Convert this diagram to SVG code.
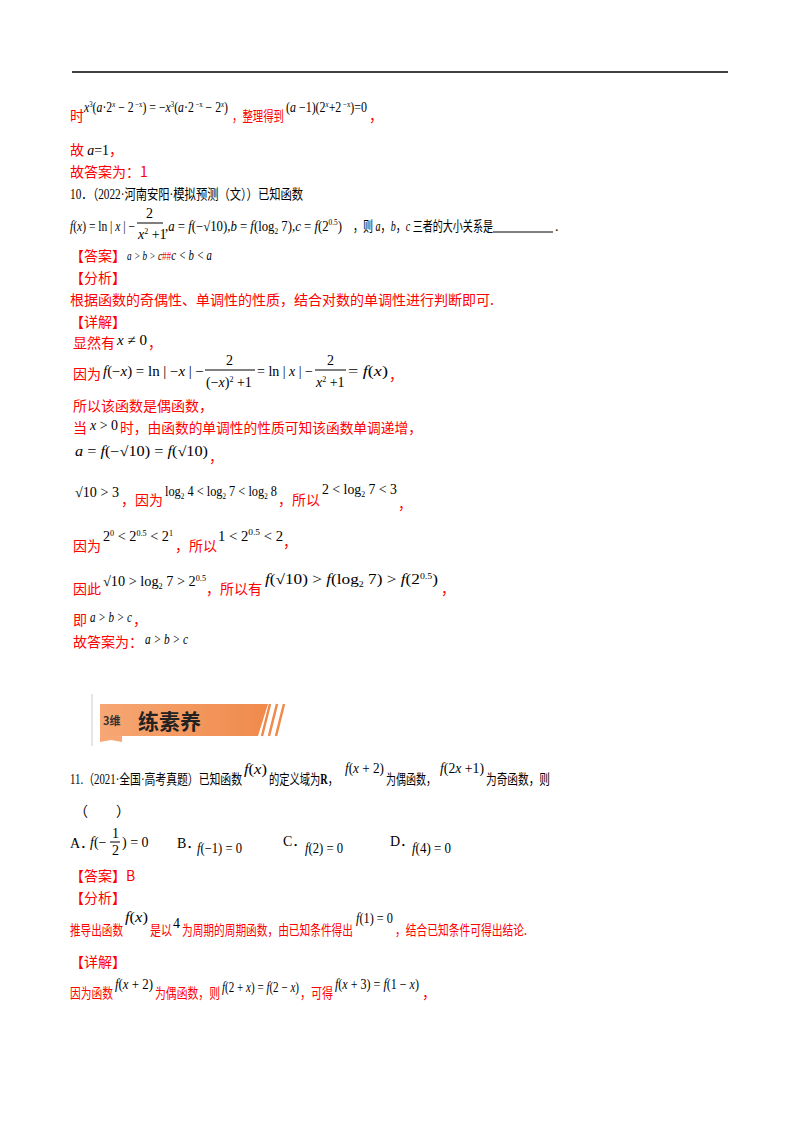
<svg xmlns="http://www.w3.org/2000/svg" width="800" height="1132" viewBox="0 0 800 1132">
<style>
.r{fill:#ff0000;font-family:"Noto Sans CJK SC",sans-serif;font-size:14px}
.k{fill:#000;font-family:"Liberation Serif","Noto Sans CJK SC",serif;font-size:14px}
.m{fill:#000;font-family:"Liberation Serif",serif;font-size:14px}
.i{font-style:italic}
.s{font-size:8px}
</style>
<rect width="800" height="1132" fill="#fff"/>
<line x1="72" y1="72" x2="728" y2="72" stroke="#000" stroke-width="1.5"/>
<text class="r" x="70" y="121">时</text>
<text class="m" x="84" y="112" textLength="144" lengthAdjust="spacingAndGlyphs"><tspan class="i">x</tspan><tspan class="s" dy="-5">3</tspan><tspan dy="5">(</tspan><tspan class="i">a</tspan>·2<tspan class="s i" dy="-5">x</tspan><tspan dy="5"> − 2</tspan><tspan class="s" dy="-5"> −x</tspan><tspan dy="5">) = −</tspan><tspan class="i">x</tspan><tspan class="s" dy="-5">3</tspan><tspan dy="5">(</tspan><tspan class="i">a</tspan>·2<tspan class="s" dy="-5"> −x</tspan><tspan dy="5"> − 2</tspan><tspan class="s i" dy="-5">x</tspan><tspan dy="5">)</tspan></text>
<text class="r" x="232" y="121" textLength="52" lengthAdjust="spacingAndGlyphs">，整理得到</text>
<text class="m" x="286" y="112" textLength="81" lengthAdjust="spacingAndGlyphs">(<tspan class="i">a</tspan> −1)(2<tspan class="s i" dy="-5">x</tspan><tspan dy="5">+2</tspan><tspan class="s" dy="-5"> −x</tspan><tspan dy="5">)=0</tspan></text>
<text class="r" x="369" y="121">，</text>
<text class="r" x="70" y="155">故 <tspan class="m i" fill="#000">a</tspan><tspan class="m" fill="#000">=1</tspan>，</text>
<text class="r" x="70" y="177">故答案为：1</text>
<text class="k" x="70" y="199" textLength="233" lengthAdjust="spacingAndGlyphs">10．（2022·河南安阳·模拟预测（文））已知函数</text>
<text class="m" x="70" y="231" textLength="65" lengthAdjust="spacingAndGlyphs"><tspan class="i">f</tspan>(<tspan class="i">x</tspan>) = ln | <tspan class="i">x</tspan> | −</text>
<text class="m" x="146" y="218">2</text>
<line x1="137" y1="223" x2="163" y2="223" stroke="#000"/>
<text class="m" x="138" y="239"><tspan class="i">x</tspan><tspan class="s" dy="-5">2</tspan><tspan dy="5"> +1</tspan></text>
<text class="m" x="165" y="231" textLength="177" lengthAdjust="spacingAndGlyphs">,<tspan class="i">a</tspan> = <tspan class="i">f</tspan>(−√10),<tspan class="i">b</tspan> = <tspan class="i">f</tspan>(log<tspan class="s" dy="3">2</tspan><tspan dy="-3"> 7),</tspan><tspan class="i">c</tspan> = <tspan class="i">f</tspan>(2<tspan class="s" dy="-6">0.5</tspan><tspan dy="6">)</tspan></text>
<text class="k" x="353" y="231" textLength="140" lengthAdjust="spacingAndGlyphs">，则 <tspan class="i">a</tspan>，<tspan class="i">b</tspan>，<tspan class="i">c</tspan> 三者的大小关系是</text>
<line x1="493" y1="232" x2="553" y2="232" stroke="#000"/>
<text class="k" x="555" y="231">.</text>
<text class="r" x="70" y="261">【答案】</text>
<text class="m" x="127" y="260" textLength="85" lengthAdjust="spacingAndGlyphs"><tspan class="i" font-size="12">a &gt; b &gt; c</tspan><tspan font-size="12" fill="#ff0000">##</tspan><tspan class="i">c &lt; b &lt; a</tspan></text>
<text class="r" x="70" y="283">【分析】</text>
<text class="r" x="70" y="305">根据函数的奇偶性、单调性的性质，结合对数的单调性进行判断即可.</text>
<text class="r" x="70" y="327">【详解】</text>
<text class="r" x="73" y="348">显然有</text>
<text class="m" x="117" y="345" textLength="30" lengthAdjust="spacingAndGlyphs"><tspan class="i">x</tspan> ≠ 0</text>
<text class="r" x="148" y="348">，</text>
<text class="r" x="73" y="379">因为</text>
<text class="m" x="103" y="376" textLength="101" lengthAdjust="spacingAndGlyphs"><tspan class="i">f</tspan>(−<tspan class="i">x</tspan>) = ln | −<tspan class="i">x</tspan> | −</text>
<text class="m" x="226" y="365">2</text>
<line x1="205" y1="370" x2="255" y2="370" stroke="#000"/>
<text class="m" x="206" y="387">(−<tspan class="i">x</tspan>)<tspan class="s" dy="-5">2</tspan><tspan dy="5"> +1</tspan></text>
<text class="m" x="257" y="376" textLength="56" lengthAdjust="spacingAndGlyphs">= ln | <tspan class="i">x</tspan> | −</text>
<text class="m" x="327" y="365">2</text>
<line x1="315" y1="370" x2="346" y2="370" stroke="#000"/>
<text class="m" x="316" y="387"><tspan class="i">x</tspan><tspan class="s" dy="-5">2</tspan><tspan dy="5"> +1</tspan></text>
<text class="m" x="348" y="376" textLength="40" lengthAdjust="spacingAndGlyphs">= <tspan class="i">f</tspan>(<tspan class="i">x</tspan>)</text>
<text class="r" x="389" y="380">，</text>
<text class="r" x="73" y="411">所以该函数是偶函数，</text>
<text class="r" x="73" y="433">当</text>
<text class="m" x="90" y="430" textLength="28" lengthAdjust="spacingAndGlyphs"><tspan class="i">x</tspan> &gt; 0</text>
<text class="r" x="120" y="433" textLength="302" lengthAdjust="spacingAndGlyphs">时，由函数的单调性的性质可知该函数单调递增，</text>
<text class="m" x="75" y="456" textLength="133" lengthAdjust="spacingAndGlyphs"><tspan class="i">a</tspan> = <tspan class="i">f</tspan>(−√10) = <tspan class="i">f</tspan>(√10)</text>
<text class="r" x="209" y="462">，</text>
<text class="m" x="75" y="497" textLength="44" lengthAdjust="spacingAndGlyphs">√10 &gt; 3</text>
<text class="r" x="121" y="505">，因为</text>
<text class="m" x="165" y="496" font-size="12" textLength="112" lengthAdjust="spacingAndGlyphs">log<tspan class="s" dy="3">2</tspan><tspan dy="-3"> 4 &lt; log</tspan><tspan class="s" dy="3">2</tspan><tspan dy="-3"> 7 &lt; log</tspan><tspan class="s" dy="3">2</tspan><tspan dy="-3"> 8</tspan></text>
<text class="r" x="278" y="505">，所以</text>
<text class="m" x="322" y="494" textLength="75" lengthAdjust="spacingAndGlyphs">2 &lt; log<tspan class="s" dy="3">2</tspan><tspan dy="-3"> 7 &lt; 3</tspan></text>
<text class="r" x="398" y="509">，</text>
<text class="r" x="73" y="551">因为</text>
<text class="m" x="103" y="541" textLength="70" lengthAdjust="spacingAndGlyphs">2<tspan class="s" dy="-5">0</tspan><tspan dy="5"> &lt; 2</tspan><tspan class="s" dy="-5">0.5</tspan><tspan dy="5"> &lt; 2</tspan><tspan class="s" dy="-5">1</tspan></text>
<text class="r" x="175" y="551">，所以</text>
<text class="m" x="218" y="541" textLength="65" lengthAdjust="spacingAndGlyphs">1 &lt; 2<tspan font-size="9" dy="-6">0.5</tspan><tspan dy="6"> &lt; 2</tspan></text>
<text class="r" x="283" y="547">，</text>
<text class="r" x="73" y="594">因此</text>
<text class="m" x="103" y="586" textLength="103" lengthAdjust="spacingAndGlyphs">√10 &gt; log<tspan class="s" dy="3">2</tspan><tspan dy="-3"> 7 &gt; 2</tspan><tspan class="s" dy="-5">0.5</tspan></text>
<text class="r" x="206" y="594">，所以有</text>
<text class="m" x="265" y="584" textLength="173" lengthAdjust="spacingAndGlyphs"><tspan class="i">f</tspan>(√10) &gt; <tspan class="i">f</tspan>(log<tspan class="s" dy="3">2</tspan><tspan dy="-3"> 7) &gt; </tspan><tspan class="i">f</tspan>(2<tspan class="s" dy="-5">0.5</tspan><tspan dy="5">)</tspan></text>
<text class="r" x="441" y="594">，</text>
<text class="r" x="73" y="625">即</text>
<text class="m i" x="90" y="622" font-size="12" textLength="42" lengthAdjust="spacingAndGlyphs">a &gt; b &gt; c</text>
<text class="r" x="133" y="625">，</text>
<text class="r" x="73" y="647">故答案为：</text>
<text class="m i" x="145" y="644" font-size="12" textLength="43" lengthAdjust="spacingAndGlyphs">a &gt; b &gt; c</text>
<g id="banner">
<defs><linearGradient id="g" x1="0" x2="1"><stop offset="0" stop-color="#f6a774"/><stop offset="1" stop-color="#f08a4b"/></linearGradient></defs>
<line x1="92" y1="694" x2="92" y2="746" stroke="#ddd" stroke-width="1.5"/>
<path d="M100 704 H268 L258 736 H100 Z" fill="url(#g)"/>
<path d="M100 736 H122 V742 L111 740 L100 742 Z" fill="#f6a774"/>
<path d="M270 704 L262 736 M277 704 L269 736 M284 704 L276 736" stroke="#f08a4b" stroke-width="2.5"/>
<text x="103" y="725" font-family="Noto Sans CJK SC,sans-serif" font-size="11" font-weight="bold" fill="#333">3维</text>
<text x="138" y="729" font-family="Noto Sans CJK SC,sans-serif" font-size="21" font-weight="bold" fill="#222">练素养</text>
</g>
<text class="k" x="70" y="784" textLength="172" lengthAdjust="spacingAndGlyphs">11.（2021·全国·高考真题）已知函数</text>
<text class="m" x="244" y="774" textLength="23" lengthAdjust="spacingAndGlyphs"><tspan class="i">f</tspan>(<tspan class="i">x</tspan>)</text>
<text class="k" x="269" y="784" textLength="69" lengthAdjust="spacingAndGlyphs">的定义域为<tspan font-weight="bold">R</tspan>，</text>
<text class="m" x="345" y="773" textLength="39" lengthAdjust="spacingAndGlyphs"><tspan class="i">f</tspan>(<tspan class="i">x</tspan> + 2)</text>
<text class="k" x="386" y="784" textLength="50" lengthAdjust="spacingAndGlyphs">为偶函数，</text>
<text class="m" x="440" y="773" textLength="44" lengthAdjust="spacingAndGlyphs"><tspan class="i">f</tspan>(2<tspan class="i">x</tspan> +1)</text>
<text class="k" x="486" y="784" textLength="64" lengthAdjust="spacingAndGlyphs">为奇函数，则</text>
<text class="k" x="74" y="816">（　　）</text>
<text class="k" x="70" y="848">A．</text>
<text class="m" x="90" y="847"><tspan class="i">f</tspan>(−</text>
<text class="m" x="112" y="838" font-size="11">1</text>
<line x1="110" y1="842" x2="120" y2="842" stroke="#000"/>
<text class="m" x="112" y="855" font-size="11">2</text>
<text class="m" x="122" y="847">) = 0</text>
<text class="k" x="177" y="848">B．</text>
<text class="m" x="197" y="853" textLength="45" lengthAdjust="spacingAndGlyphs"><tspan class="i">f</tspan>(−1) = 0</text>
<text class="k" x="283" y="846">C．</text>
<text class="m" x="305" y="853" textLength="38" lengthAdjust="spacingAndGlyphs"><tspan class="i">f</tspan>(2) = 0</text>
<text class="k" x="390" y="846">D．</text>
<text class="m" x="412" y="853" textLength="39" lengthAdjust="spacingAndGlyphs"><tspan class="i">f</tspan>(4) = 0</text>
<text class="r" x="70" y="881">【答案】B</text>
<text class="r" x="70" y="903">【分析】</text>
<text class="r" x="70" y="935" textLength="53" lengthAdjust="spacingAndGlyphs">推导出函数</text>
<text class="m" x="125" y="922" textLength="23" lengthAdjust="spacingAndGlyphs"><tspan class="i">f</tspan>(<tspan class="i">x</tspan>)</text>
<text class="r" x="150" y="935" textLength="22" lengthAdjust="spacingAndGlyphs">是以</text>
<text class="m" x="173" y="928">4</text>
<text class="r" x="182" y="935" textLength="171" lengthAdjust="spacingAndGlyphs">为周期的周期函数，由已知条件得出</text>
<text class="m" x="356" y="923" textLength="37" lengthAdjust="spacingAndGlyphs"><tspan class="i">f</tspan>(1) = 0</text>
<text class="r" x="395" y="935" textLength="132" lengthAdjust="spacingAndGlyphs">，结合已知条件可得出结论.</text>
<text class="r" x="70" y="967">【详解】</text>
<text class="r" x="70" y="998" textLength="43" lengthAdjust="spacingAndGlyphs">因为函数</text>
<text class="m" x="115" y="989" textLength="38" lengthAdjust="spacingAndGlyphs"><tspan class="i">f</tspan>(<tspan class="i">x</tspan> + 2)</text>
<text class="r" x="155" y="998" textLength="65" lengthAdjust="spacingAndGlyphs">为偶函数，则</text>
<text class="m" x="222" y="992" font-size="12" textLength="77" lengthAdjust="spacingAndGlyphs"><tspan class="i">f</tspan>(2 + <tspan class="i">x</tspan>) = <tspan class="i">f</tspan>(2 − <tspan class="i">x</tspan>)</text>
<text class="r" x="300" y="998" textLength="33" lengthAdjust="spacingAndGlyphs">，可得</text>
<text class="m" x="335" y="989" textLength="84" lengthAdjust="spacingAndGlyphs"><tspan class="i">f</tspan>(<tspan class="i">x</tspan> + 3) = <tspan class="i">f</tspan>(1 − <tspan class="i">x</tspan>)</text>
<text class="r" x="422" y="998">，</text>
</svg>
